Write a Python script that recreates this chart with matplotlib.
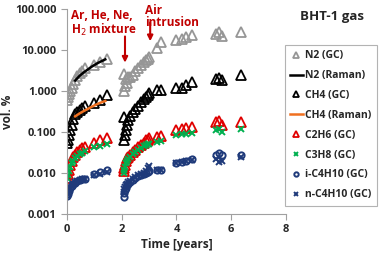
import matplotlib
matplotlib.use("Agg")
import matplotlib.pyplot as plt

plt.rcParams['font.family'] = ['Open Sans', 'DejaVu Sans']

# GC sampling times [years]
t_gc = [0.02, 0.05, 0.08, 0.12, 0.17, 0.22, 0.3, 0.38, 0.47, 0.56, 0.65, 1.0, 1.2, 1.45,
        2.08, 2.1, 2.12, 2.15, 2.18, 2.22, 2.3, 2.4, 2.5, 2.6, 2.7, 2.8, 2.9, 2.95, 3.0,
        3.3, 3.45, 4.0, 4.2, 4.35, 4.55, 5.45, 5.55, 5.65, 6.35]

n2_gc = [0.6, 0.7, 0.85, 1.0, 1.2, 1.5, 1.9, 2.3, 2.8, 3.1, 3.6, 4.4, 5.2, 6.0,
         2.6, 1.0, 1.3, 2.0, 1.6, 2.2, 2.2, 2.5, 3.0, 3.6, 4.3, 5.0, 5.7, 6.2, 6.8,
         11.5, 15.5, 17.5, 19.0, 21.0, 23.0, 24.0, 27.0, 22.0, 27.5]
ch4_gc = [0.055, 0.065, 0.085, 0.11, 0.15, 0.21, 0.28, 0.31, 0.34, 0.38, 0.42, 0.5, 0.6, 0.8,
          0.23, 0.065, 0.085, 0.11, 0.15, 0.2, 0.25, 0.3, 0.36, 0.42, 0.55, 0.65, 0.72, 0.8, 0.9,
          1.05, 1.05, 1.15, 1.2, 1.4, 1.65, 2.0, 2.05, 1.85, 2.45]
c2h6_gc = [0.0075, 0.0095, 0.012, 0.016, 0.02, 0.024, 0.028, 0.032, 0.036, 0.04, 0.044, 0.055, 0.062, 0.07,
           0.011, 0.013, 0.016, 0.02, 0.023, 0.025, 0.028, 0.033, 0.037, 0.042, 0.048, 0.055, 0.062, 0.065, 0.07,
           0.075, 0.078, 0.11, 0.12, 0.125, 0.13, 0.17, 0.18, 0.15, 0.17]
c3h8_gc = [0.0075, 0.009, 0.011, 0.014, 0.017, 0.02, 0.023, 0.026, 0.029, 0.031, 0.034, 0.042, 0.045, 0.05,
           0.01, 0.012, 0.014, 0.017, 0.02, 0.022, 0.025, 0.029, 0.033, 0.037, 0.041, 0.045, 0.048, 0.05, 0.052,
           0.058, 0.06, 0.085, 0.088, 0.09, 0.095, 0.11, 0.12, 0.1, 0.12]
ic4_gc = [0.0027, 0.0031, 0.0036, 0.0042, 0.0048, 0.0053, 0.0058, 0.0063, 0.0067, 0.007, 0.0073, 0.0095, 0.0105, 0.0115,
          0.0026, 0.0032, 0.0038, 0.0044, 0.005, 0.0055, 0.006, 0.0067, 0.0075, 0.0082, 0.0088, 0.0095, 0.01, 0.0105, 0.011,
          0.0115, 0.0115, 0.017, 0.018, 0.019, 0.022, 0.027, 0.03, 0.028, 0.028]
nc4_gc = [0.003, 0.0034, 0.004, 0.0045, 0.005, 0.0055, 0.006, 0.0064, 0.0068, 0.007, 0.0072, 0.009, 0.0095, 0.0105,
          0.0035, 0.004, 0.0045, 0.005, 0.0055, 0.006, 0.0065, 0.0072, 0.008, 0.0088, 0.0095, 0.01, 0.011, 0.013, 0.015,
          0.012, 0.012, 0.017, 0.018, 0.019, 0.021, 0.022, 0.018, 0.02, 0.025]

# Raman (continuous) data, first period only
t_raman = [0.3, 0.45, 0.6, 0.75, 0.9, 1.05, 1.2, 1.4]
n2_raman = [1.8, 2.3, 2.8, 3.3, 3.9, 4.5, 5.1, 5.9]
ch4_raman = [0.24, 0.28, 0.32, 0.36, 0.41, 0.46, 0.51, 0.57]

fig = plt.figure(figsize=(3.87, 2.58), dpi=100)
ax = fig.add_axes([0.173, 0.171, 0.566, 0.794])

ms = 6.5
ax.plot(t_gc, n2_gc, '^', ms=ms, mfc='none', mec='#969696', mew=1.3, label='N2 (GC)')
ax.plot(t_raman, n2_raman, '-', color='black', lw=1.8, label='N2 (Raman)')
ax.plot(t_gc, ch4_gc, '^', ms=ms, mfc='none', mec='black', mew=1.3, label='CH4 (GC)')
ax.plot(t_raman, ch4_raman, '-', color='#f07020', lw=1.8, label='CH4 (Raman)')
ax.plot(t_gc, c2h6_gc, '^', ms=ms, mfc='none', mec='#e00000', mew=1.3, label='C2H6 (GC)')
ax.plot(t_gc, c3h8_gc, 'x', ms=4.5, color='#00b050', mew=1.4, label='C3H8 (GC)')
ax.plot(t_gc, ic4_gc, 'o', ms=4.5, mfc='none', mec='#1f3a7a', mew=1.4, label='i-C4H10 (GC)')
ax.plot(t_gc, nc4_gc, 'x', ms=4.5, color='#1f3a7a', mew=1.4, label='n-C4H10 (GC)')

ax.set_yscale('log')
ax.set_ylim(0.001, 100)
ax.set_xlim(0, 8)
ax.set_xticks([0, 2, 4, 6, 8])
ax.set_yticks([0.001, 0.01, 0.1, 1, 10, 100])
ax.set_yticklabels(['0.001', '0.010', '0.100', '1.000', '10.000', '100.000'])
ax.minorticks_off()
for s in ['top', 'right']:
    ax.spines[s].set_visible(False)
for s in ['left', 'bottom']:
    ax.spines[s].set_color('#a0a0a0')
ax.tick_params(axis='both', colors='#a0a0a0', labelcolor='#262626', labelsize=8, length=4, width=0.8)
for lab in ax.get_xticklabels() + ax.get_yticklabels():
    lab.set_fontweight('bold')

ax.set_xlabel('Time [years]', fontsize=8.5, fontweight='bold', color='#262626', labelpad=2)
ax.set_ylabel('vol. %', fontsize=8.5, fontweight='bold', color='#262626', labelpad=1)

fig.text(0.858, 0.935, 'BHT-1 gas', fontsize=9.5, fontweight='bold', color='#262626', ha='center', va='center')

red = '#c00000'
ax.annotate('', xy=(2.12, 4.2), xytext=(2.12, 25),
            arrowprops=dict(arrowstyle='-|>', color=red, lw=1.5, mutation_scale=8))
ax.text(0.15, 100, 'Ar, He, Ne,\nH$_2$ mixture', fontsize=8.5, fontweight='bold', color=red,
        va='top', ha='left', linespacing=0.95, clip_on=False)
ax.annotate('', xy=(3.04, 14), xytext=(3.04, 55),
            arrowprops=dict(arrowstyle='-|>', color=red, lw=1.5, mutation_scale=8))
ax.text(2.85, 135, 'Air\nintrusion', fontsize=8.5, fontweight='bold', color=red,
        va='top', ha='left', linespacing=0.95, clip_on=False)

leg = fig.legend(loc='upper left', bbox_to_anchor=(0.736, 0.825), fontsize=7.5, frameon=True,
                 fancybox=False, edgecolor='#a0a0a0', handlelength=1.2, handletextpad=0.25,
                 labelspacing=0.85, borderpad=0.5, borderaxespad=0, markerscale=0.7)
leg.get_frame().set_linewidth(0.8)
for txt in leg.get_texts():
    txt.set_fontweight('bold')
    txt.set_color('#262626')

fig.savefig('out.png', dpi=100)
